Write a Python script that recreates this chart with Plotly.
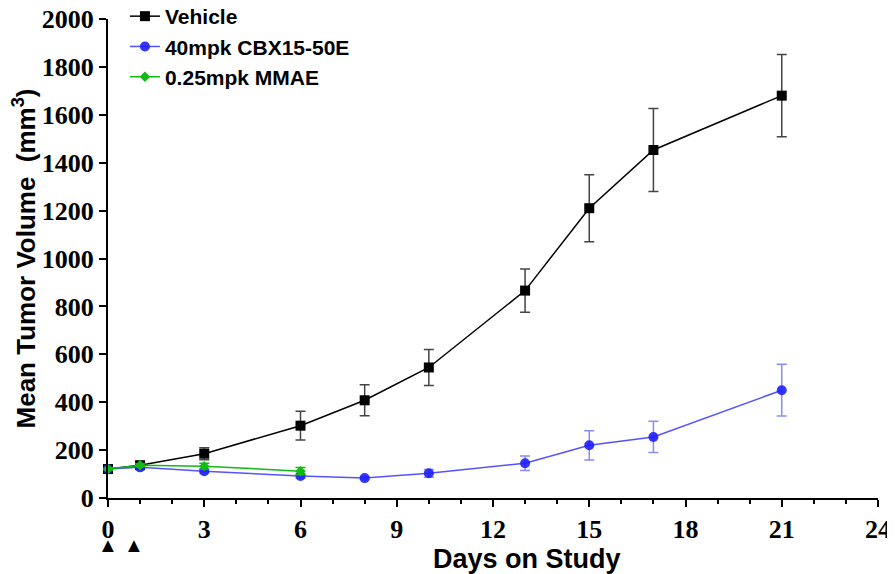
import plotly.graph_objects as go

days = [0, 1, 3, 6, 8, 10, 13, 15, 17, 21]
vehicle = [121, 137, 185, 302, 408, 545, 866, 1210, 1453, 1680]
vehicle_err = [5, 8, 25, 60, 65, 75, 90, 140, 173, 172]

cbx_days = [0, 1, 3, 6, 8, 10, 13, 15, 17, 21]
cbx = [121, 128, 112, 92, 83, 103, 145, 220, 255, 450]
cbx_err = [5, 5, 8, 8, 6, 16, 30, 61, 65, 108]

mmae_days = [0, 1, 3, 6]
mmae = [121, 137, 133, 112]
mmae_err = [5, 6, 12, 15]

dose_days = [0, 0.8]

x_ticks = [0, 3, 6, 9, 12, 15, 18, 21, 24]
y_ticks = [0, 200, 400, 600, 800, 1000, 1200, 1400, 1600, 1800, 2000]

fig = go.Figure()

fig.add_trace(go.Scatter(
    x=days, y=vehicle, name="Vehicle", mode="lines+markers",
    line=dict(color="black", width=1.5),
    marker=dict(symbol="square", size=10, color="black"),
    error_y=dict(type="data", array=vehicle_err, visible=True, color="#444444", thickness=1.5, width=5),
    cliponaxis=False,
))
fig.add_trace(go.Scatter(
    x=cbx_days, y=cbx, name="40mpk CBX15-50E", mode="lines+markers",
    line=dict(color="rgba(40,40,255,0.8)", width=1.5),
    marker=dict(symbol="circle", size=10, color="rgba(30,30,255,0.9)"),
    error_y=dict(type="data", array=cbx_err, visible=True, color="rgba(60,60,255,0.6)", thickness=1.5, width=5),
    cliponaxis=False,
))
fig.add_trace(go.Scatter(
    x=mmae_days, y=mmae, name="0.25mpk MMAE", mode="lines+markers",
    line=dict(color="#11bb11", width=1.5),
    marker=dict(symbol="diamond", size=8, color="#11bb11"),
    error_y=dict(type="data", array=mmae_err, visible=True, color="#11bb11", thickness=1.5, width=5),
    cliponaxis=False,
))

for d in dose_days:
    fig.add_annotation(x=d, y=-0.098, xref="x", yref="paper", text="▲",
                       showarrow=False, font=dict(size=20, color="black"),
                       xanchor="center", yanchor="middle")

fig.add_annotation(x=0.544, y=-0.127, xref="paper", yref="paper",
                   text="<b>Days on Study</b>", showarrow=False,
                   font=dict(family="Liberation Sans", size=27, color="black"),
                   xanchor="center", yanchor="middle")

tick_font = dict(family="Liberation Serif", size=26, color="black", weight="bold")
title_font = dict(family="Liberation Sans", size=26, color="black")

# page body has an 8px default margin, so the figure is sized to fit the window
fig.update_layout(
    width=887, height=566,
    margin=dict(l=100, r=17, t=11, b=76, autoexpand=False),
    paper_bgcolor="white", plot_bgcolor="white",
    font=dict(family="Liberation Sans", color="black"),
    legend=dict(
        x=0.022, y=1.048, xanchor="left", yanchor="top",
        font=dict(family="Liberation Sans", size=21, color="black", weight="bold"),
        bgcolor="rgba(0,0,0,0)", itemwidth=30,
    ),
    xaxis=dict(
        range=[0, 24], tickvals=x_ticks, ticktext=[str(v) for v in x_ticks],
        showline=True, linecolor="black", linewidth=2, mirror=False,
        ticks="outside", ticklen=7, tickwidth=2, tickcolor="black",
        minor=dict(dtick=1, ticks="outside", ticklen=4, tickwidth=1.5, tickcolor="black"),
        showgrid=False, zeroline=False, automargin=False,
        ticklabeloverflow="allow",
        tickfont=tick_font,
    ),
    yaxis=dict(
        range=[0, 2000], tickvals=y_ticks, ticktext=[str(v) for v in y_ticks],
        showline=True, linecolor="black", linewidth=2,
        ticks="outside", ticklen=7, tickwidth=2, tickcolor="black",
        showgrid=False, zeroline=False, automargin=False,
        ticklabeloverflow="allow",
        tickfont=tick_font,
        title=dict(text="<b>Mean Tumor Volume  (mm<sup>3</sup>)</b>", font=title_font, standoff=0),
    ),
)

fig.write_html("out.html")
